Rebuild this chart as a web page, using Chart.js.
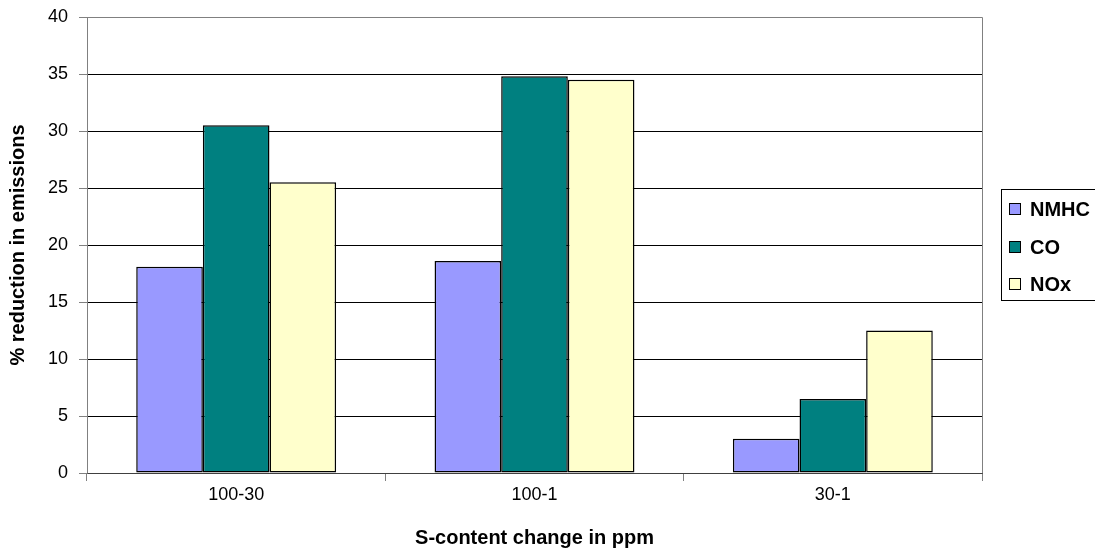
<!DOCTYPE html>
<html>
<head>
<meta charset="utf-8">
<script src="https://cdn.jsdelivr.net/npm/chart.js@4"></script>
<style>
  html, body { margin: 0; padding: 0; background: #fff; overflow: hidden; }
  #wrap { width: 1095px; height: 554px; position: relative; }
</style>
</head>
<body>
<div id="wrap"><canvas id="c" width="1095" height="554"></canvas></div>
<script>
// Sulfur-content change categories and emission reductions (%)
const categories = ['100-30', '100-1', '30-1'];
const nmhc = [18.1, 18.6, 3.0];
const co   = [30.5, 34.8, 6.5];
const nox  = [25.5, 34.5, 12.5];
const seriesNames = ['NMHC', 'CO', 'NOx'];
const yTicks = [0, 5, 10, 15, 20, 25, 30, 35, 40];

const FONT = "'Liberation Sans', Arial, sans-serif";
const AXIS_GRAY = '#808080';

// Boxed legend at the right edge of the plot
const boxLegend = {
  id: 'boxLegend',
  afterDraw(chart) {
    const ctx = chart.ctx;
    ctx.save();
    const x0 = 1001.5, y0 = 189.5, w = 110, h = 111;
    ctx.fillStyle = '#fff';
    ctx.fillRect(x0, y0, w, h);
    ctx.strokeStyle = '#000';
    ctx.lineWidth = 1;
    ctx.strokeRect(x0, y0, w, h);
    const rows = [209, 247, 284];
    ctx.font = 'bold 20px ' + FONT;
    ctx.textBaseline = 'middle';
    chart.data.datasets.forEach((ds, i) => {
      const cy = rows[i];
      ctx.fillStyle = ds.backgroundColor;
      ctx.fillRect(1009.5, cy - 5.5, 11, 11);
      ctx.strokeStyle = '#000';
      ctx.strokeRect(1009.5, cy - 5.5, 11, 11);
      ctx.fillStyle = '#000';
      ctx.fillText(ds.label, 1030, cy + 1);
    });
    ctx.restore();
  }
};

// Gray frame around the plotting area
const plotFrame = {
  id: 'plotFrame',
  afterDatasetsDraw(chart) {
    const a = chart.chartArea;
    const ctx = chart.ctx;
    ctx.save();
    ctx.strokeStyle = AXIS_GRAY;
    ctx.lineWidth = 1;
    ctx.beginPath();
    ctx.moveTo(Math.round(a.left) + 0.5, Math.round(a.bottom) + 0.5);
    ctx.lineTo(Math.round(a.left) + 0.5, Math.round(a.top) + 0.5);
    ctx.lineTo(Math.round(a.right) + 0.5, Math.round(a.top) + 0.5);
    ctx.lineTo(Math.round(a.right) + 0.5, Math.round(a.bottom) + 0.5);
    ctx.stroke();
    ctx.strokeStyle = '#404040';
    ctx.beginPath();
    ctx.moveTo(Math.round(a.left) + 0.5, Math.round(a.bottom) + 0.5);
    ctx.lineTo(Math.round(a.right) + 0.5, Math.round(a.bottom) + 0.5);
    ctx.stroke();
    ctx.restore();
  }
};

const colors = ['#9999FF', '#008080', '#FFFFCC'];
const values = [nmhc, co, nox];

new Chart(document.getElementById('c'), {
  type: 'bar',
  data: {
    labels: categories,
    datasets: seriesNames.map((name, i) => ({
      label: name,
      data: values[i],
      backgroundColor: colors[i],
      borderColor: '#000',
      borderWidth: 1.5,
      borderSkipped: false,
      categoryPercentage: 0.67,
      barPercentage: 1.0
    }))
  },
  options: {
    responsive: false,
    animation: false,
    devicePixelRatio: 1,
    layout: { padding: { left: 0, right: 113, top: 17, bottom: 0 } },
    plugins: { legend: { display: false }, tooltip: { enabled: false } },
    scales: {
      x: {
        grid: {
          display: true, offset: true, drawOnChartArea: false,
          tickLength: 8, tickColor: AXIS_GRAY
        },
        border: { display: true, color: '#404040' },
        ticks: { color: '#000', font: { family: FONT, size: 18 }, padding: 3 },
        title: {
          display: true, text: 'S-content change in ppm', color: '#000',
          font: { family: FONT, size: 20, weight: 'bold' },
          padding: { top: 0, bottom: 4 }
        },
        afterFit(scale) {
          scale.height = 554 - 473;
          scale.paddingLeft = 0; scale.paddingRight = 0;
        }
      },
      y: {
        min: 0, max: 40,
        afterBuildTicks(scale) { scale.ticks = yTicks.map(v => ({ value: v })); },
        grid: {
          color: '#000', lineWidth: 1,
          tickLength: 8, tickColor: AXIS_GRAY
        },
        border: { display: true, color: AXIS_GRAY },
        ticks: { color: '#000', font: { family: FONT, size: 18 }, padding: 11 },
        title: {
          display: true, text: '% reduction in emissions', color: '#000',
          font: { family: FONT, size: 20, weight: 'bold' },
          padding: { top: 6, bottom: 0 }
        },
        afterFit(scale) {
          scale.width = 87;
          scale.paddingTop = 0; scale.paddingBottom = 0;
        }
      }
    }
  },
  plugins: [plotFrame, boxLegend]
});
</script>
</body>
</html>
